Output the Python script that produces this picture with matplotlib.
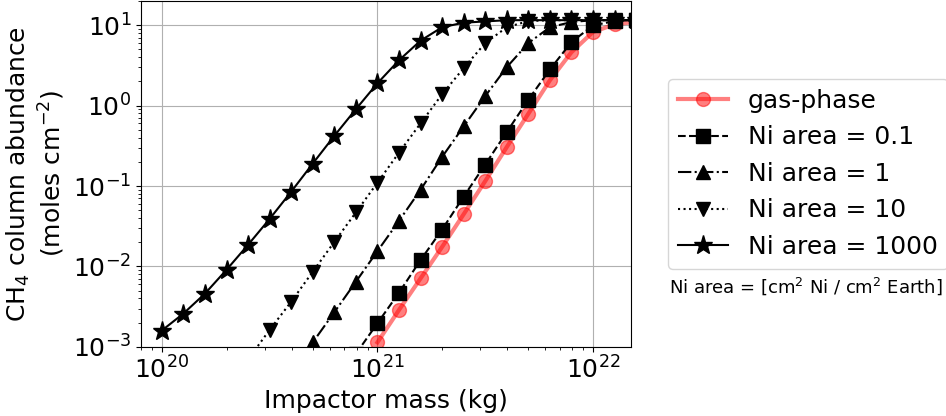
import numpy as np
import matplotlib
matplotlib.use("Agg")
import matplotlib.pyplot as plt

# impactor masses (kg), 10 points per decade
mass = 10 ** np.arange(20.0, 22.25, 0.1)

# CH4 column abundance (moles cm^-2)
gas_phase = [np.nan] * 10 + [1.14e-3, 2.88e-3, 7.1e-3, 0.0175, 0.0446, 0.115, 0.305, 0.79,
                             2.06, 4.6, 8.2, 10.2, 11.0]
ni_01 = [np.nan] * 9 + [8.2e-4, 1.97e-3, 4.72e-3, 0.012, 0.0288, 0.0738, 0.185, 0.469, 1.18,
                        2.81, 6.14, 9.9, 11.2, 11.5]
ni_1 = [np.nan] * 6 + [4.9e-4, 1.14e-3, 2.7e-3, 6.46e-3, 0.0155, 0.0369, 0.0897, 0.23, 0.55,
                       1.31, 3.0, 5.97, 9.4, 10.9, 11.5, 11.5, 11.5]
ni_10 = [np.nan] * 4 + [7e-4, 1.63e-3, 3.65e-3, 8.6e-3, 0.0202, 0.0469, 0.11, 0.26, 0.60, 1.38,
                        2.92, 5.97, 9.4, 11.2, 11.5, 11.5, 11.5, 11.5, 11.5]
ni_1000 = [1.6e-3, 2.6e-3, 4.6e-3, 9.1e-3, 0.0186, 0.039, 0.085, 0.19, 0.42, 0.90, 1.89, 3.65,
           6.4, 9.4, 10.7, 11.1, 11.5, 11.5, 11.5, 11.5, 11.5, 11.5, 11.5]

fig = plt.figure(figsize=(9.46, 4.16), dpi=100)
ax = fig.add_axes([0.149, 0.166, 0.518, 0.832])

ax.plot(mass, gas_phase, '-o', color='red', alpha=0.5, lw=3, ms=10, label='gas-phase')
ax.plot(mass, ni_01, '--s', color='k', lw=1.5, ms=10, label='Ni area = 0.1')
ax.plot(mass, ni_1, '-.^', color='k', lw=1.5, ms=10, label='Ni area = 1')
ax.plot(mass, ni_10, ':v', color='k', lw=1.5, ms=10, label='Ni area = 10')
ax.plot(mass, ni_1000, '-*', color='k', lw=1.5, ms=14, label='Ni area = 1000')

ax.set_xscale('log')
ax.set_yscale('log')
ax.set_xlim(8e19, 1.5e22)
ax.set_ylim(1e-3, 20)
ax.grid(True, which='major', color='#b0b0b0', lw=0.8)
ax.tick_params(labelsize=18)

ax.set_xlabel('Impactor mass (kg)', fontsize=18)
ax.set_ylabel('CH$_4$ column abundance\n(moles cm$^{-2}$)', fontsize=18)

ax.legend(loc='center left', bbox_to_anchor=(1.05, 0.5), fontsize=18)
fig.text(0.707, 0.297, 'Ni area = [cm$^2$ Ni / cm$^2$ Earth]', fontsize=13)

fig.savefig('out.png', dpi=100)
